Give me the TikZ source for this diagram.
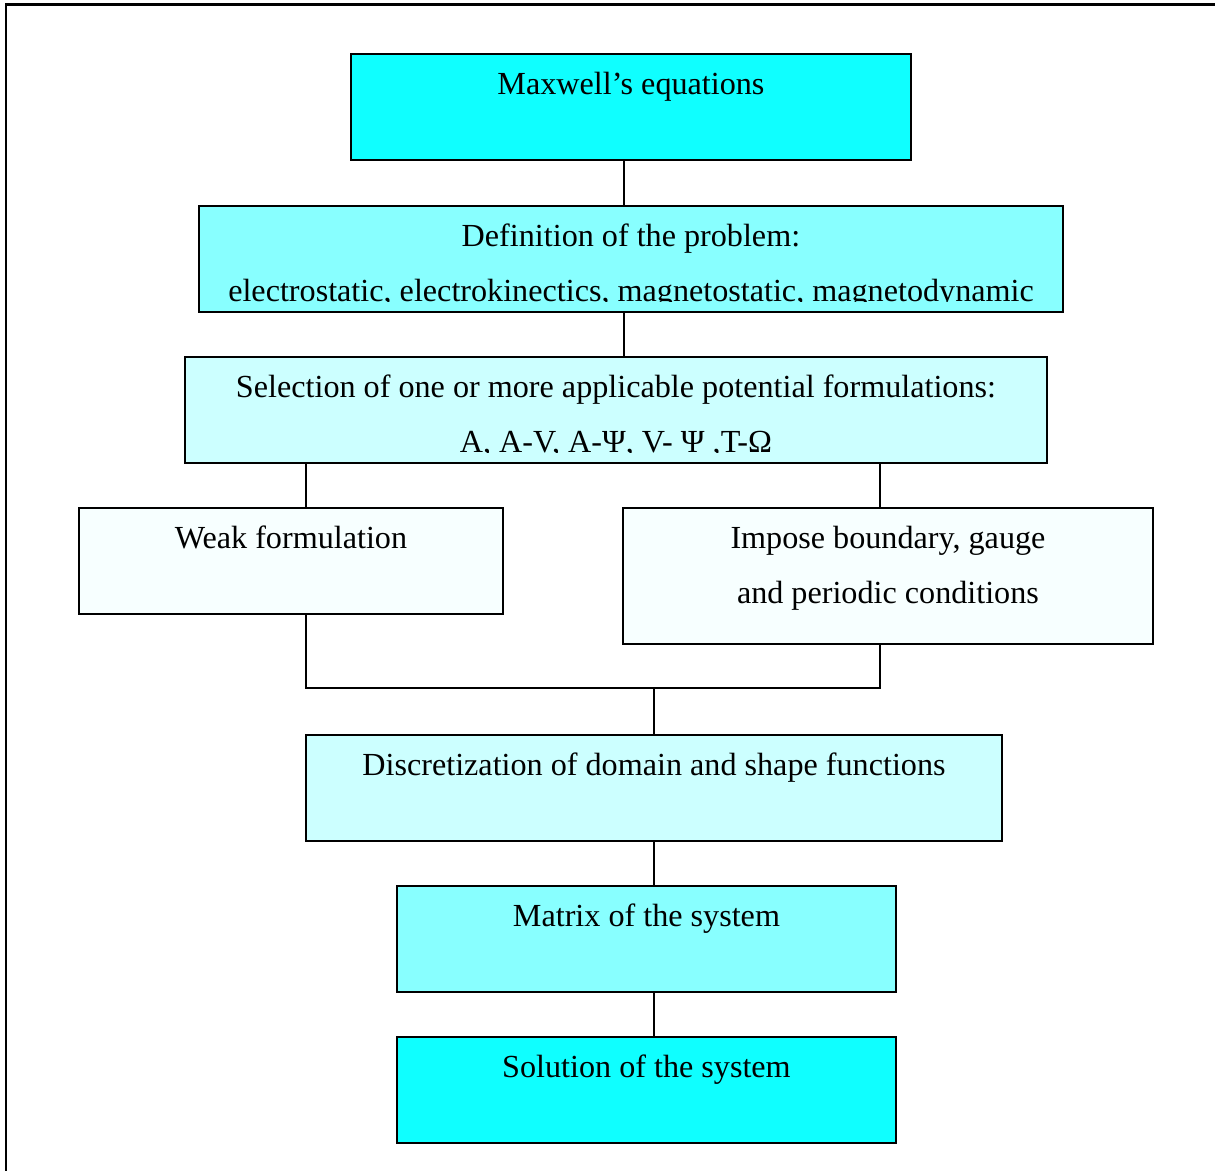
\documentclass[tikz,border=0pt]{standalone}
\usepackage{fontspec}
\setmainfont{Liberation Serif}
\usetikzlibrary{positioning}

\definecolor{cyandeep}{HTML}{0FFFFF}
\definecolor{cyanmid}{HTML}{88FFFF}
\definecolor{cyanpale}{HTML}{CCFFFF}
\definecolor{cyanwhite}{HTML}{F7FFFF}

\begin{document}
\begin{tikzpicture}[x=1cm, y=1cm,
flowbox/.style={rectangle, draw=black, line width=1.1pt, anchor=north west, inner sep=0pt, minimum height=2.12cm},
boxtext/.style={anchor=base, align=center, inner sep=0pt, font=\fontsize{18.3}{31.3}\selectfont},
intext/.style={path picture={
  \clip ([yshift=0.2cm]path picture bounding box.south west) rectangle (path picture bounding box.north east);
  \node[boxtext] at ([yshift=-0.82cm]path picture bounding box.north) {#1};}},
intexttwo/.style={path picture={
  \clip ([yshift=0.2cm]path picture bounding box.south west) rectangle (path picture bounding box.north east);
  \node[boxtext] at ([yshift=-1.92cm]path picture bounding box.north) {#1};}},
link/.style={line width=1.1pt},
]
\useasboundingbox (0,0) rectangle (24.3,-23.42);
%Frame
\draw[line width=1.7pt] (24.3,-0.1) -- (0.12,-0.1) -- (0.12,-23.42);

%Boxes
\node[flowbox, fill=cyandeep, minimum width=11.2cm, intext={Maxwell’s equations}]  (maxwell) at (7.0,-1.06) {};
\node[flowbox, fill=cyanmid, minimum width=17.28cm, intexttwo={Definition of the problem:\\electrostatic, electrokinectics, magnetostatic, magnetodynamic}] (problem) at (3.96,-4.1) {};
\node[flowbox, fill=cyanpale, minimum width=17.24cm, intexttwo={Selection of one or more applicable potential formulations:\\A, A-V, A-Ψ, V- Ψ ,T-Ω}] (selection) at (3.68,-7.12) {};
\node[flowbox, fill=cyanwhite, minimum width=8.48cm, intext={Weak formulation}] (weak) at (1.56,-10.14) {};
\node[flowbox, fill=cyanwhite, minimum width=10.6cm, minimum height=2.72cm, intexttwo={Impose boundary, gauge\\and periodic conditions}] (impose) at (12.44,-10.14) {};
\node[flowbox, fill=cyanpale, minimum width=13.92cm, intext={Discretization of domain and shape functions}] (discret) at (6.1,-14.68) {};
\node[flowbox, fill=cyanmid, minimum width=9.98cm, intext={Matrix of the system}] (matrix) at (7.92,-17.7) {};
\node[flowbox, fill=cyandeep, minimum width=9.98cm, intext={Solution of the system}] (solution) at (7.92,-20.72) {};

\coordinate (merge) at ([yshift=0.92cm]discret.north);

%Lines
\draw[link] ([xshift=-0.14cm]maxwell.south) -- ([xshift=-0.14cm]maxwell.south |- problem.north);
\draw[link] ([xshift=-0.14cm]problem.south) -- ([xshift=-0.14cm]problem.south |- selection.north);
\draw[link] ([xshift=0.3cm]weak.north |- selection.south) -- ([xshift=0.3cm]weak.north);
\draw[link] ([xshift=-0.16cm]impose.north |- selection.south) -- ([xshift=-0.16cm]impose.north);
\draw[link] ([xshift=0.3cm]weak.south) |- ([xshift=-0.16cm]impose.south |- merge) -- ([xshift=-0.16cm]impose.south);
\draw[link] (merge) -- (discret.north);
\draw[link] (discret.south) -- (discret.south |- matrix.north);
\draw[link] ([xshift=0.15cm]matrix.south) -- ([xshift=0.15cm]matrix.south |- solution.north);
\end{tikzpicture}
\end{document}
